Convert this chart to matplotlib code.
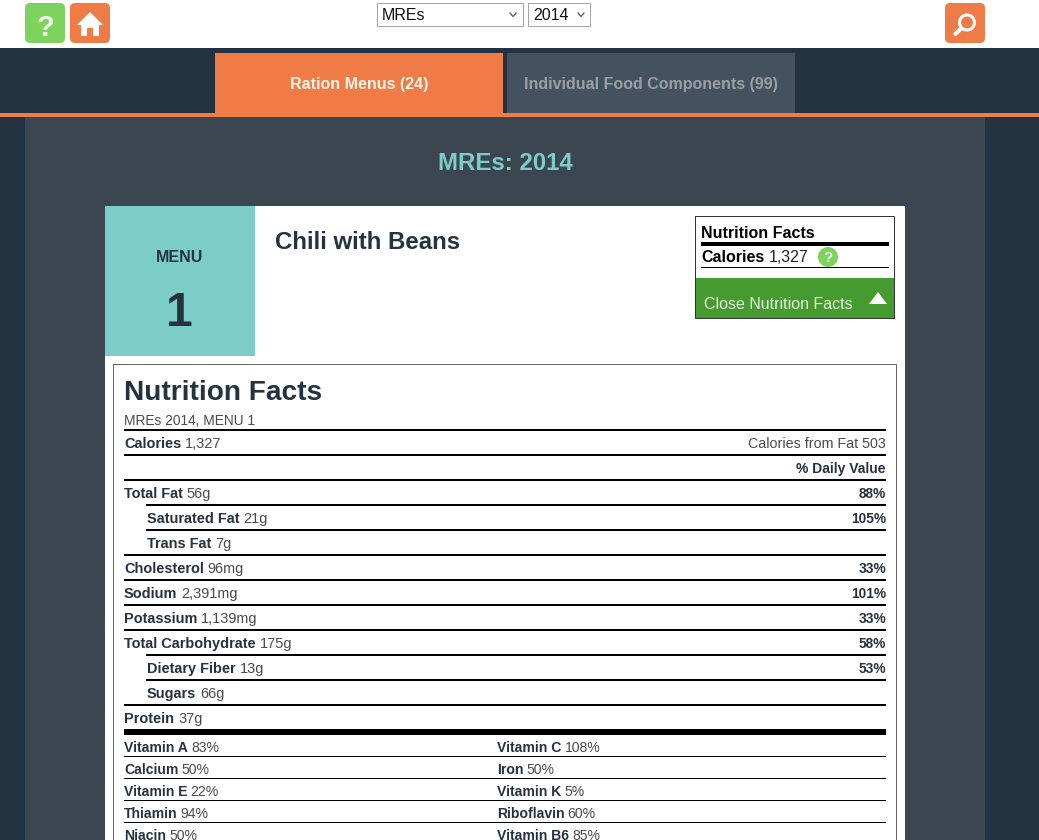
import matplotlib

matplotlib.use("Agg")

import matplotlib.pyplot as plt
from matplotlib.patches import Circle, FancyBboxPatch, Polygon, Rectangle

W, H = 1039, 840

ORANGE = "#ef7c46"
NAVY = "#233240"
SLATE = "#3c4650"
TAB_GRAY = "#44525f"
TEAL = "#7ccdc8"
GREEN = "#7ed35f"
BTN_GREEN = "#459b2f"
TEXT = "#24333f"
GRAY_TEXT = "#4a4a4a"

nutrients = ["Total Fat", "Saturated Fat", "Trans Fat", "Cholesterol", "Sodium", "Potassium",
             "Total Carbohydrate", "Dietary Fiber", "Sugars", "Protein"]
amounts = ["56g", "21g", "7g", "96mg", "2,391mg", "1,139mg", "175g", "13g", "66g", "37g"]
daily_values = ["88%", "105%", "", "33%", "101%", "33%", "58%", "53%", "", ""]
indented = ["Saturated Fat", "Trans Fat", "Dietary Fiber", "Sugars"]

vitamins_left = ["Vitamin A", "Calcium", "Vitamin E", "Thiamin", "Niacin"]
vitamins_left_pct = ["83%", "50%", "22%", "94%", "50%"]
vitamins_right = ["Vitamin C", "Iron", "Vitamin K", "Riboflavin", "Vitamin B6"]
vitamins_right_pct = ["108%", "50%", "5%", "60%", "85%"]

plt.rcParams["font.family"] = ["Liberation Sans", "DejaVu Sans"]

fig = plt.figure(figsize=(W / 100, H / 100), dpi=100)
ax = fig.add_axes([0, 0, 1, 1])
ax.set_xlim(0, W)
ax.set_ylim(H, 0)
ax.axis("off")


def pt(px):
    return px * 72 / 100


def box(x0, y0, x1, y1, color, edge="none", lw=0, z=1):
    ax.add_patch(Rectangle((x0, y0), x1 - x0, y1 - y0, facecolor=color, edgecolor=edge, linewidth=lw, zorder=z))


def label(x, y, s, size=14, color=TEXT, weight="normal", ha="left", z=5):
    return ax.text(x, y, s, fontsize=pt(size), color=color, fontweight=weight, ha=ha, va="baseline", zorder=z)


def bold_then_regular(x, y, name, value, size=14, color=TEXT, value_color=GRAY_TEXT, gap=4):
    t = label(x, y, name, size=size, color=color, weight="bold")
    right = t.get_window_extent(fig.canvas.get_renderer()).x1
    label(right + gap, y, value, size=size, color=value_color)


def icon(x0, y0, x1, y1, color):
    r = 5
    ax.add_patch(FancyBboxPatch((x0 + r, y0 + r), x1 - x0 - 2 * r, y1 - y0 - 2 * r,
                                boxstyle=f"round,pad={r},rounding_size={r}",
                                facecolor=color, edgecolor="none", zorder=2))


def rule(x0, x1, y, thick):
    box(x0, y - thick / 2, x1, y + thick / 2, "black", z=3)


def chevron(x, y):
    ax.plot([x - 3, x, x + 3], [y - 2, y + 1.5, y - 2], color="#555555", lw=0.9, zorder=4)


# page background
box(0, 0, W, H, NAVY, z=0)
box(0, 0, W, 48, "white")
box(25, 117, 985, H, SLATE)
box(0, 113, W, 117, ORANGE, z=2)

# top bar
icon(25, 3, 65, 43, GREEN)
label(45, 36, "?", size=29, color="#f2fbef", weight="bold", ha="center")
icon(70, 3, 110, 43, ORANGE)
ax.add_patch(Polygon([(90, 12), (103, 25), (99, 25), (99, 36), (93, 36), (93, 28), (87, 28), (87, 36),
                      (81, 36), (81, 25), (77, 25)], closed=True, facecolor="white", zorder=4))
icon(945, 3, 985, 43, ORANGE)
ax.add_patch(Circle((967, 22.5), 7.5, facecolor="none", edgecolor="white", linewidth=2.2, zorder=4))
ax.plot([961, 955.5], [28.5, 34], color="white", lw=3, solid_capstyle="round", zorder=4)

box(377, 3, 523, 26, "white", edge="#a6a6a6", lw=0.72, z=3)
label(382, 20, "MREs", size=16, color="#111111")
chevron(513, 15)
box(528, 3, 590, 26, "white", edge="#a6a6a6", lw=0.72, z=3)
label(533, 20, "2014", size=16, color="#111111")
chevron(581, 15)

# tabs
box(215, 53, 503, 114, ORANGE, z=2)
label(359, 89, "Ration Menus (24)", size=16, color="#fff4ec", weight="bold", ha="center")
box(507, 53, 795, 113, TAB_GRAY, z=2)
label(651, 89, "Individual Food Components (99)", size=16, color="#9a9fa4", weight="bold", ha="center")

label(505, 170, "MREs: 2014", size=24, color=TEAL, weight="bold", ha="center")

# menu card
box(105, 206, 905, H, "white")
box(105, 206, 255, 356, TEAL, z=2)
label(180, 262, "MENU", size=16, weight="bold", ha="center")
label(179, 326, "1", size=48, weight="bold", ha="center")
label(275, 249, "Chili with Beans", size=24, weight="bold")

# small nutrition box
box(695, 216, 894, 318, "white", edge="#333333", lw=0.72, z=2)
label(701, 238, "Nutrition Facts", size=16, color="black", weight="bold")
rule(701, 889, 244, 4)
bold_then_regular(701, 262, "Calories", "1,327", size=16, color="black", value_color="#222222", gap=5)
ax.add_patch(Circle((828, 257), 10, facecolor=GREEN, edgecolor="none", zorder=4))
label(828, 262.5, "?", size=15, color="#f2fbef", weight="bold", ha="center")
rule(701, 889, 267.5, 1)
box(696, 278, 894, 318, BTN_GREEN, z=3)
label(704, 309, "Close Nutrition Facts", size=16, color="#e8f4e2")
ax.add_patch(Polygon([(869, 304), (878, 292), (887, 304)], closed=True, facecolor="white", zorder=4))

# nutrition facts panel
box(113, 364, 896, H + 5, "white", edge="#666666", lw=0.72, z=2)
label(124, 400, "Nutrition Facts", size=28, weight="bold")
label(124, 425, "MREs 2014, MENU 1", size=13.7, color=GRAY_TEXT)
rule(124, 886, 430, 2)
bold_then_regular(124, 448, "Calories", "1,327", size=14.5)
label(886, 448, "Calories from Fat 503", size=14.2, color=GRAY_TEXT, ha="right")
rule(124, 886, 455, 2)
label(886, 473, "% Daily Value", size=13.9, weight="bold", ha="right")
rule(124, 886, 480, 2)

for i, name in enumerate(nutrients):
    y = 498 + i * 25
    x = 147 if name in indented else 124
    bold_then_regular(x, y, name, amounts[i], size=14.5)
    if daily_values[i]:
        label(886, y, daily_values[i], size=13.8, weight="bold", ha="right")
    if i < len(nutrients) - 1:
        # the rule under a row starts at the indent of the row below it
        next_indented = nutrients[i + 1] in indented
        rule(146 if next_indented else 124, 886, y + 7, 2)

rule(124, 886, 732, 6)

for i in range(len(vitamins_left)):
    y = 752 + i * 22
    bold_then_regular(124, y, vitamins_left[i], vitamins_left_pct[i], gap=3)
    bold_then_regular(497, y, vitamins_right[i], vitamins_right_pct[i], gap=3)
    rule(124, 886, y + 4.5, 1)

fig.savefig("out.png", dpi=100)
plt.close(fig)
